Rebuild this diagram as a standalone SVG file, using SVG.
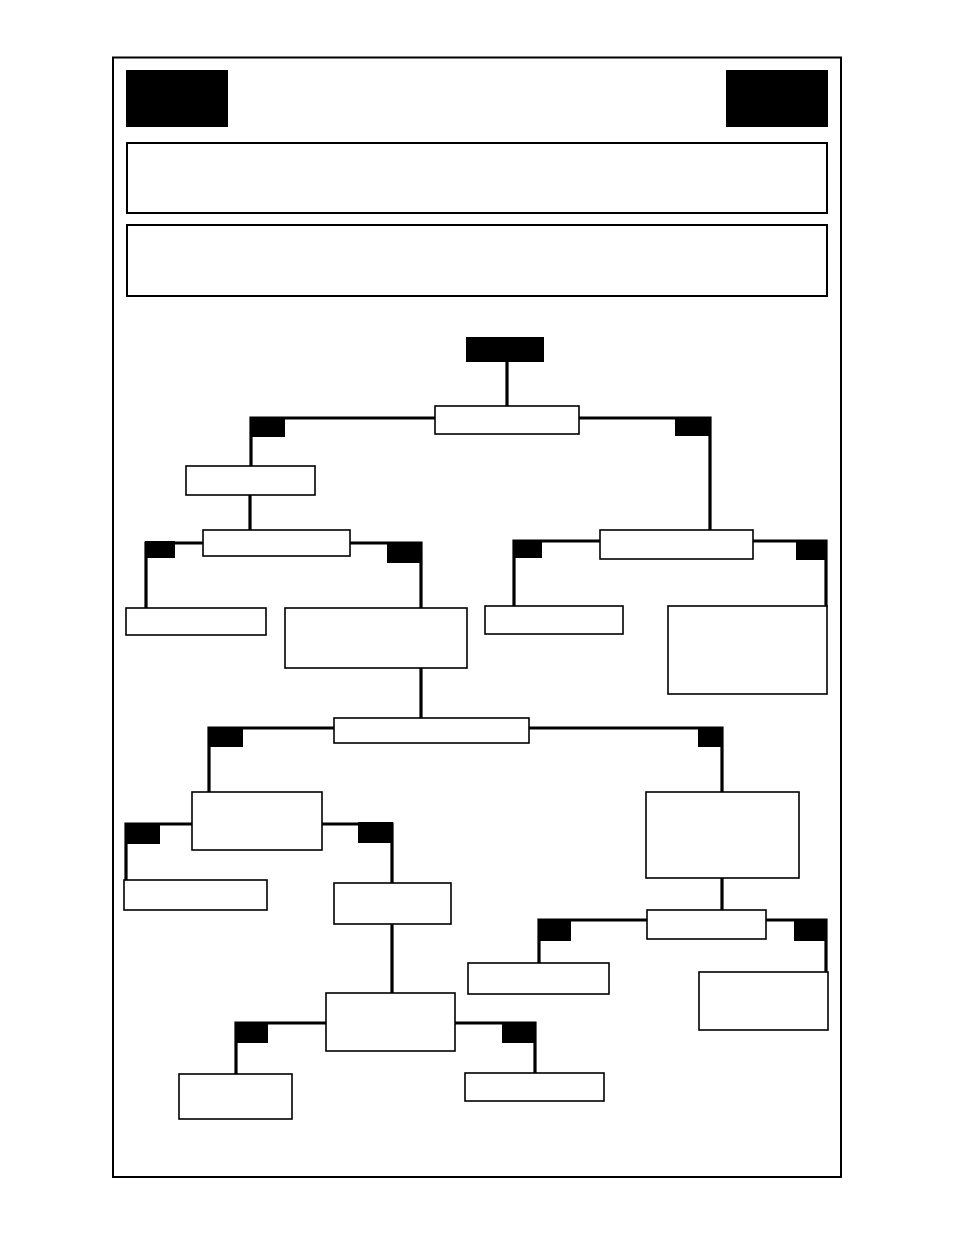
<svg xmlns="http://www.w3.org/2000/svg" width="954" height="1235" viewBox="0 0 954 1235">
<style>
.box{fill:#fff;stroke:#000;stroke-width:1.6}
.blk{fill:#000}
.ln{stroke:#000;stroke-width:3.2;fill:none;stroke-linecap:square}
</style>
<rect width="954" height="1235" fill="#fff"/>
<rect x="113" y="57.5" width="728" height="1119.5" fill="none" stroke="#000" stroke-width="2"/>
<g id="header-left"><rect class="blk" x="126" y="70" width="102" height="57"/></g>
<g id="header-right"><rect class="blk" x="726" y="70" width="102" height="57"/></g>
<g id="panel1"><rect x="127" y="143" width="700" height="70" fill="#fff" stroke="#000" stroke-width="2"/></g>
<g id="panel2"><rect x="127" y="225" width="700" height="71" fill="#fff" stroke="#000" stroke-width="2"/></g>
<g id="connectors">
<path class="ln" d="M507 362V406"/>
<path class="ln" d="M251 466V418H435M579 418H710V530"/>
<path class="ln" d="M250 495V530"/>
<path class="ln" d="M146 608V543H203M350 543H421V608"/>
<path class="ln" d="M514 606V541H600M753 541H826V606"/>
<path class="ln" d="M421 668V718"/>
<path class="ln" d="M209 792V728H334M529 728H722V792"/>
<path class="ln" d="M126 880V824H192M322 824H392V883"/>
<path class="ln" d="M392 924V993"/>
<path class="ln" d="M236 1074V1023H326M455 1023H535V1073"/>
<path class="ln" d="M722 878V910"/>
<path class="ln" d="M539 963V920H647M766 920H826V972"/>
<rect class="blk" x="250" y="417" width="35" height="20"/>
<rect class="blk" x="675" y="417" width="35" height="19"/>
<rect class="blk" x="145" y="541" width="30" height="17"/>
<rect class="blk" x="387" y="542" width="34" height="21"/>
<rect class="blk" x="513" y="540" width="29" height="18"/>
<rect class="blk" x="796" y="540" width="30" height="20"/>
<rect class="blk" x="208" y="727" width="35" height="20"/>
<rect class="blk" x="698" y="727" width="24" height="20"/>
<rect class="blk" x="125" y="823" width="35" height="21"/>
<rect class="blk" x="358" y="822" width="35" height="21"/>
<rect class="blk" x="235" y="1022" width="33" height="21"/>
<rect class="blk" x="502" y="1022" width="33" height="21"/>
<rect class="blk" x="538" y="919" width="33" height="22"/>
<rect class="blk" x="794" y="919" width="33" height="22"/>
</g>
<g id="start"><rect class="blk" x="466" y="337" width="78" height="25"/></g>
<g id="nA"><rect class="box" x="435" y="406" width="144" height="28"/></g>
<g id="nB"><rect class="box" x="186" y="466" width="129" height="29"/></g>
<g id="nC"><rect class="box" x="203" y="530" width="147" height="26"/></g>
<g id="nD"><rect class="box" x="126" y="608" width="140" height="27"/></g>
<g id="nE"><rect class="box" x="285" y="608" width="182" height="60"/></g>
<g id="nF"><rect class="box" x="334" y="718" width="195" height="25"/></g>
<g id="nG"><rect class="box" x="600" y="530" width="153" height="29"/></g>
<g id="nH"><rect class="box" x="485" y="606" width="138" height="28"/></g>
<g id="nI"><rect class="box" x="668" y="606" width="159" height="88"/></g>
<g id="nJ"><rect class="box" x="192" y="792" width="130" height="58"/></g>
<g id="nK"><rect class="box" x="124" y="880" width="143" height="30"/></g>
<g id="nL"><rect class="box" x="334" y="883" width="117" height="41"/></g>
<g id="nM"><rect class="box" x="326" y="993" width="129" height="58"/></g>
<g id="nN"><rect class="box" x="179" y="1074" width="113" height="45"/></g>
<g id="nO"><rect class="box" x="465" y="1073" width="139" height="28"/></g>
<g id="nP"><rect class="box" x="646" y="792" width="153" height="86"/></g>
<g id="nQ"><rect class="box" x="647" y="910" width="119" height="29"/></g>
<g id="nR"><rect class="box" x="468" y="963" width="141" height="31"/></g>
<g id="nS"><rect class="box" x="699" y="972" width="129" height="58"/></g>
</svg>
